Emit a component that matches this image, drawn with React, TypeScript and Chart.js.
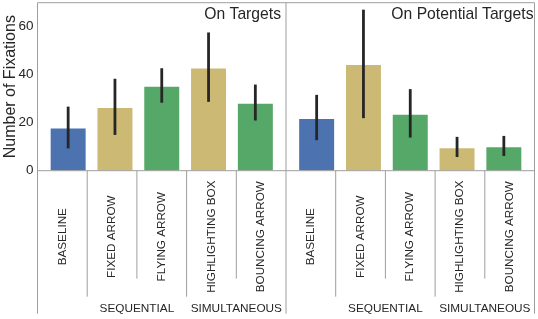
import React, { useEffect, useRef } from 'react';
import { Chart, registerables } from 'chart.js';

Chart.register(...registerables);

// ---- data ----
const categories = ['BASELINE', 'FIXED ARROW', 'FLYING ARROW', 'HIGHLIGHTING BOX', 'BOUNCING ARROW'];
const categoryGroups = ['', 'SEQUENTIAL', 'SEQUENTIAL', 'SIMULTANEOUS', 'SIMULTANEOUS'];
const groupLabels = ['SEQUENTIAL', 'SIMULTANEOUS'];
const panelTitles = ['On Targets', 'On Potential Targets'];

const onTargets = [18.0, 26.5, 35.4, 43.0, 28.3];
const onTargetsLow = [9.3, 14.9, 28.3, 28.7, 20.9];
const onTargetsHigh = [26.7, 38.3, 42.7, 57.6, 35.9];

const onPotential = [22.0, 44.5, 23.7, 9.8, 10.2];
const onPotentialLow = [12.7, 21.9, 13.8, 5.7, 6.1];
const onPotentialHigh = [31.6, 67.1, 34.0, 14.1, 14.5];

const yTicks = [0, 20, 40, 60];
const yMax = 70;
const yTitle = 'Number of Fixations';

const barColors = ['#4C72B0', '#CCB974', '#55A868', '#CCB974', '#55A868'];

// ---- layout ----
const PANEL_PAD = 0.655;
const PANEL_SPAN = categories.length - 1 + 2 * PANEL_PAD;
const FONT = '"Liberation Sans", Arial, sans-serif';
const TEXT = '#262626';
const LINE = '#9e9e9e';

export default function App() {
  const ref = useRef<HTMLCanvasElement>(null);

  useEffect(() => {
    const panels = [
      { title: panelTitles[0], values: onTargets, low: onTargetsLow, high: onTargetsHigh, inset: 5 },
      { title: panelTitles[1], values: onPotential, low: onPotentialLow, high: onPotentialHigh, inset: 1 },
    ];
    const points: { x: number; y: number }[] = [];
    const colors: string[] = [];
    const lows: number[] = [];
    const highs: number[] = [];
    panels.forEach((p, pi) => {
      p.values.forEach((v, i) => {
        points.push({ x: pi * PANEL_SPAN + i, y: v });
        colors.push(barColors[i]);
        lows.push(p.low[i]);
        highs.push(p.high[i]);
      });
    });

    const n = categories.length;
    const EDGE = 143;
    const LONG = 126;
    const SHORT = 108;

    const decor = {
      id: 'decor',
      afterDatasetsDraw(chart: any) {
        const { ctx, chartArea: a } = chart;
        const x = chart.scales.x;
        const y = chart.scales.y;
        ctx.save();
        // error bars
        ctx.strokeStyle = '#262626';
        ctx.lineWidth = 2.8;
        points.forEach((pt, k) => {
          const px = x.getPixelForValue(pt.x);
          ctx.beginPath();
          ctx.moveTo(px, y.getPixelForValue(lows[k]));
          ctx.lineTo(px, y.getPixelForValue(highs[k]));
          ctx.stroke();
        });
        // frame
        ctx.strokeStyle = LINE;
        ctx.lineWidth = 1;
        ctx.beginPath();
        ctx.moveTo(a.left, a.bottom + EDGE);
        ctx.lineTo(a.left, a.top);
        ctx.lineTo(a.right, a.top);
        ctx.lineTo(a.right, a.bottom + EDGE);
        ctx.moveTo(a.left, a.bottom);
        ctx.lineTo(a.right, a.bottom);
        ctx.stroke();

        panels.forEach((p, pi) => {
          const L = x.getPixelForValue(pi * PANEL_SPAN - PANEL_PAD);
          const R = x.getPixelForValue(pi * PANEL_SPAN - PANEL_PAD + PANEL_SPAN);
          const w = (R - L) / n;
          ctx.strokeStyle = LINE;
          ctx.lineWidth = 1;
          if (pi > 0) {
            ctx.beginPath();
            ctx.moveTo(L, a.top);
            ctx.lineTo(L, a.bottom + EDGE);
            ctx.stroke();
          }
          for (let i = 1; i < n; i++) {
            const sx = L + i * w;
            const len = categoryGroups[i] !== categoryGroups[i - 1] ? LONG : SHORT;
            ctx.beginPath();
            ctx.moveTo(sx, a.bottom);
            ctx.lineTo(sx, a.bottom + len);
            ctx.stroke();
          }
          // category labels (rotated)
          ctx.fillStyle = TEXT;
          ctx.font = `11.7px ${FONT}`;
          ctx.textAlign = 'center';
          ctx.textBaseline = 'middle';
          categories.forEach((c, i) => {
            ctx.save();
            ctx.translate(L + (i + 0.5) * w, a.bottom + 66);
            ctx.rotate(-Math.PI / 2);
            ctx.fillText(c, 0, 0);
            ctx.restore();
          });
          // group labels
          ctx.font = `11.8px ${FONT}`;
          groupLabels.forEach((g) => {
            const idx = categoryGroups.map((cg, i) => (cg === g ? i : -1)).filter((i) => i >= 0);
            const first = idx[0];
            const last = idx[idx.length - 1];
            const cx = L + ((first + last + 1) / 2) * w;
            ctx.fillText(g, cx, a.bottom + 138.5);
          });
          // panel title
          ctx.font = `15.7px ${FONT}`;
          ctx.textAlign = 'right';
          ctx.fillText(p.title, R - p.inset, a.top + 11.8);
        });

        // y title
        ctx.font = `16px ${FONT}`;
        ctx.textAlign = 'center';
        ctx.textBaseline = 'middle';
        ctx.save();
        ctx.translate(11, (a.top + a.bottom) / 2);
        ctx.rotate(-Math.PI / 2);
        ctx.fillText(yTitle, 0, 0);
        ctx.restore();
        ctx.restore();
      },
    };

    const chart = new Chart(ref.current as HTMLCanvasElement, {
      type: 'bar',
      data: {
        datasets: [
          {
            data: points as any,
            backgroundColor: colors,
            borderColor: 'rgba(255,255,255,0.35)',
            borderWidth: 1,
            barPercentage: 0.79,
            categoryPercentage: 1,
          },
        ],
      },
      options: {
        responsive: false,
        animation: false,
        layout: { padding: { left: 0, top: 2.7, right: 3.5, bottom: 148.3 } },
        plugins: { legend: { display: false }, tooltip: { enabled: false } },
        scales: {
          x: {
            type: 'linear',
            min: -PANEL_PAD,
            max: 2 * PANEL_SPAN - PANEL_PAD,
            display: false,
            offset: false,
          },
          y: {
            min: 0,
            max: yMax,
            grid: { display: false, drawTicks: false },
            border: { display: false },
            afterBuildTicks: (scale: any) => {
              scale.ticks = yTicks.map((v) => ({ value: v }));
            },
            afterFit: (scale: any) => {
              scale.width = 37.5;
              scale.paddingTop = 0;
              scale.paddingBottom = 0;
            },
            ticks: {
              padding: 4,
              color: TEXT,
              font: { family: FONT, size: 13.5 },
            },
          },
        },
      },
      plugins: [decor],
    });
    return () => chart.destroy();
  }, []);

  return (
    <div style={{ position: 'fixed', left: 0, top: 0, width: 538, height: 319, background: '#fff' }}>
      <canvas ref={ref} width={538} height={319} style={{ display: 'block', width: 538, height: 319 }} />
    </div>
  );
}
